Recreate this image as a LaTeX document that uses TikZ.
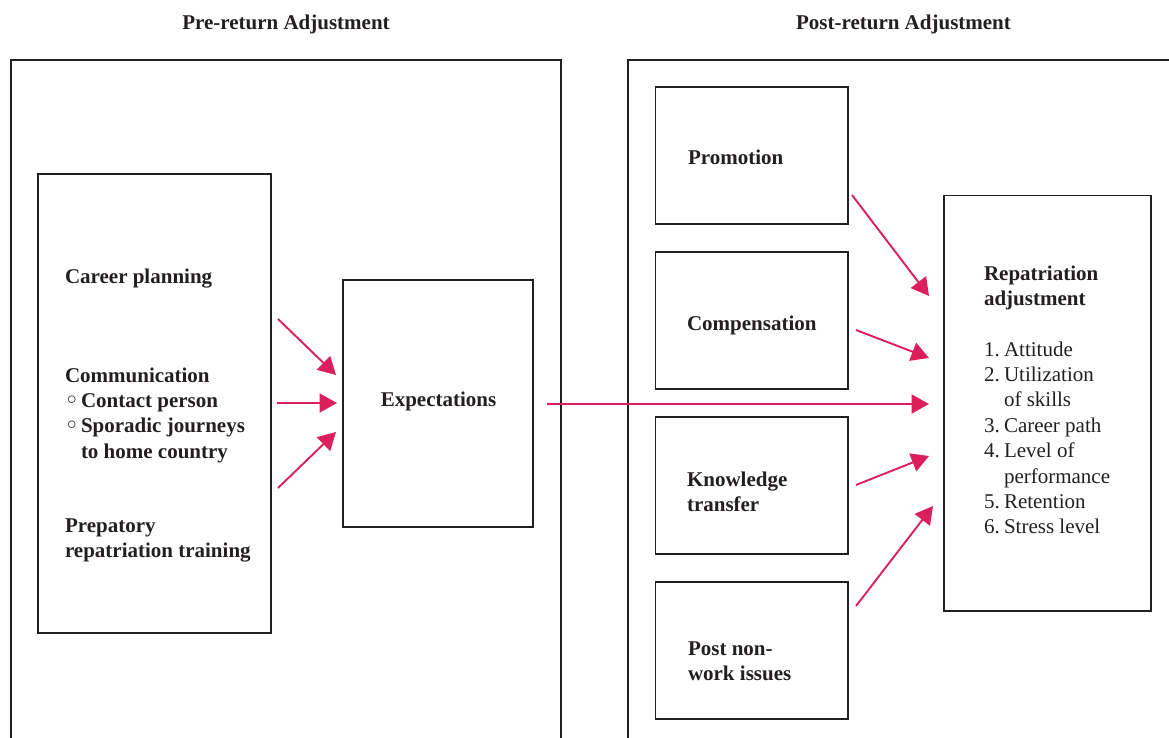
\documentclass[tikz,border=0pt]{standalone}
\usepackage{fontspec}
\setmainfont{Liberation Serif}
\newfontfamily\symfont{DejaVu Sans}
\usetikzlibrary{arrows.meta}
\definecolor{ink}{HTML}{231F20}
\definecolor{arrowred}{HTML}{DC1F5C}
\begin{document}
\begin{tikzpicture}[x=1pt,y=-1pt,
  every node/.style={inner sep=0pt, outer sep=0pt, text=ink,
    font=\fontsize{21}{25.4}\selectfont},
  heading/.style={anchor=base, font=\fontsize{21}{25.4}\selectfont\bfseries},
  % multi-line nodes are placed by the baseline of their last line
  lbl/.style={anchor=base west, align=left,
    font=\fontsize{21}{25.4}\selectfont\bfseries},
  plain/.style={anchor=base west, align=left},
  panel/.style={draw=ink, line width=1.6pt},
  box/.style={draw=ink, line width=1.6pt, rectangle},
  link/.style={draw=arrowred, line width=1.9pt,
    -{Triangle[length=17.5pt,width=19pt]}}
]
\useasboundingbox (0,0) rectangle (1169,738);

% section panels (open at the bottom)
\draw[panel] (11,745) -- (11,60) -- (561,60) -- (561,745);
\draw[panel] (628,745) -- (628,60) -- (1180,60);
\node[heading] (preT)  at (286,30)   {Pre-return Adjustment};
\node[heading] (postT) at (903.5,30) {Post-return Adjustment};

% pre-return side
\node[box, minimum width=233pt, minimum height=459pt] (pre) at (154.5,403.5) {};
\node[lbl] (career) at (65,283) {Career planning};
\node[lbl] (comm) at (65,458.2) {Communication\\
  \makebox[16pt][l]{\symfont ◦}Contact person\\
  \makebox[16pt][l]{\symfont ◦}Sporadic journeys\\
  \hspace*{16pt}to home country};
\node[lbl] (train) at (65,557.6) {Prepatory\\repatriation training};

\node[box, minimum width=190pt, minimum height=247pt] (exp) at (438,403.5) {};
\node[lbl, anchor=base] (expT) at (438.5,406) {Expectations};

% post-return side
\node[box, minimum width=192.5pt, minimum height=137pt] (promo) at (751.75,155.5) {};
\node[box, minimum width=192.5pt, minimum height=137pt] (comp)  at (751.75,320.5) {};
\node[box, minimum width=192.5pt, minimum height=137pt] (know)  at (751.75,485.5) {};
\node[box, minimum width=192.5pt, minimum height=137pt] (nonwork) at (751.75,650.5) {};
\node[lbl] (promoT) at (688,165) {Promotion};
\node[lbl] (compT)  at (687,330) {Compensation};
\node[lbl] (knowT)  at (687,511.4) {Knowledge\\transfer};
\node[lbl] (nonworkT) at (688,680.4) {Post non-\\work issues};

\node[box, minimum width=207pt, minimum height=415.5pt] (rep) at (1047.5,403.25) {};
\node[lbl] (repT) at (984,305.4) {Repatriation\\adjustment};
\node[plain] (repL) at (984,533.8) {%
  \makebox[20pt][l]{1.}Attitude\\
  \makebox[20pt][l]{2.}Utilization\\
  \hspace*{20pt}of skills\\
  \makebox[20pt][l]{3.}Career path\\
  \makebox[20pt][l]{4.}Level of\\
  \hspace*{20pt}performance\\
  \makebox[20pt][l]{5.}Retention\\
  \makebox[20pt][l]{6.}Stress level};

% arrow end points
\coordinate (a1s) at (278,319);  \coordinate (a1e) at (336,375);
\coordinate (a2s) at (277,403);  \coordinate (a2e) at (337,403);
\coordinate (a3s) at (278,488);  \coordinate (a3e) at (336,432);
\coordinate (b0s) at (547,404);  \coordinate (b0e) at (929,404);
\coordinate (b1s) at (852,195);  \coordinate (b1e) at (929,296);
\coordinate (b2s) at (856,330);  \coordinate (b2e) at (929,358);
\coordinate (b4s) at (856,485);  \coordinate (b4e) at (929,456);
\coordinate (b5s) at (856,606);  \coordinate (b5e) at (933,506);

\draw[link] (a1s) -- (a1e);
\draw[link] (a2s) -- (a2e);
\draw[link] (a3s) -- (a3e);
\draw[link] (b0s) -- (b0e);
\draw[link] (b1s) -- (b1e);
\draw[link] (b2s) -- (b2e);
\draw[link] (b4s) -- (b4e);
\draw[link] (b5s) -- (b5e);
\end{tikzpicture}
\end{document}
